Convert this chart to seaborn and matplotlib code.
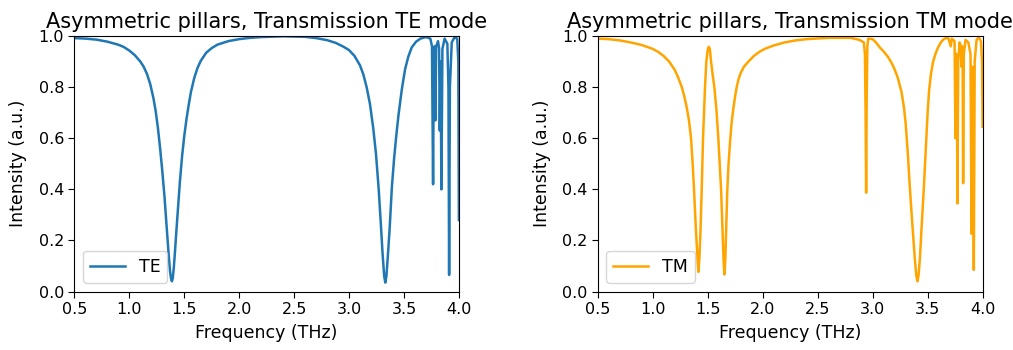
import matplotlib
matplotlib.use("Agg")
import matplotlib.pyplot as plt
import seaborn as sns
import pandas as pd

# Transmission spectrum, TE polarisation (frequency in THz, normalised intensity)
te_freq = [
    0.50, 0.60, 0.70, 0.80, 0.90, 0.95, 1.00, 1.05, 1.10, 1.13,
    1.16, 1.19, 1.22, 1.24, 1.26, 1.28, 1.30, 1.32, 1.34, 1.355,
    1.37, 1.38, 1.387, 1.395, 1.405, 1.415, 1.43, 1.445, 1.46, 1.48,
    1.50, 1.52, 1.54, 1.56, 1.59, 1.62, 1.65, 1.70, 1.75, 1.80,
    1.90, 2.00, 2.10, 2.20, 2.40, 2.60, 2.70, 2.80, 2.88, 2.95,
    3.00, 3.05, 3.10, 3.13, 3.16, 3.19, 3.22, 3.245, 3.27, 3.29,
    3.305, 3.32, 3.330, 3.34, 3.355, 3.37, 3.39, 3.41, 3.43, 3.45,
    3.48, 3.51, 3.54, 3.57, 3.61, 3.65, 3.70, 3.74, 3.755, 3.765,
    3.772, 3.779, 3.786, 3.793, 3.810, 3.820, 3.826, 3.833, 3.841, 3.850,
    3.870, 3.895, 3.905, 3.911, 3.918, 3.935, 3.960, 3.985, 3.995, 4.000,
]
te_int = [
    0.992, 0.990, 0.986, 0.978, 0.966, 0.957, 0.943, 0.925, 0.900, 0.880,
    0.852, 0.812, 0.755, 0.705, 0.640, 0.560, 0.470, 0.370, 0.250, 0.160,
    0.080, 0.050, 0.040, 0.052, 0.095, 0.155, 0.250, 0.340, 0.430, 0.530,
    0.610, 0.675, 0.730, 0.780, 0.835, 0.875, 0.903, 0.935, 0.953, 0.966,
    0.980, 0.988, 0.993, 0.996, 0.999, 0.997, 0.992, 0.984, 0.973, 0.958,
    0.945, 0.922, 0.885, 0.850, 0.800, 0.735, 0.640, 0.540, 0.400, 0.260,
    0.150, 0.060, 0.035, 0.060, 0.150, 0.250, 0.410, 0.520, 0.610, 0.690,
    0.790, 0.870, 0.920, 0.955, 0.978, 0.990, 0.996, 0.990, 0.960, 0.420,
    0.950, 0.960, 0.670, 0.960, 0.980, 0.950, 0.630, 0.900, 0.400, 0.950,
    0.990, 0.970, 0.800, 0.065, 0.800, 0.975, 0.995, 0.990, 0.900, 0.280,
]

# Transmission spectrum, TM polarisation
tm_freq = [
    0.50, 0.60, 0.70, 0.80, 0.90, 1.00, 1.05, 1.10, 1.15, 1.20,
    1.23, 1.265, 1.29, 1.31, 1.33, 1.349, 1.365, 1.376, 1.39, 1.40,
    1.41, 1.416, 1.425, 1.435, 1.446, 1.458, 1.476, 1.488, 1.50, 1.510,
    1.52, 1.531, 1.545, 1.561, 1.58, 1.597, 1.622, 1.635, 1.645, 1.652,
    1.660, 1.670, 1.679, 1.69, 1.706, 1.72, 1.735, 1.75, 1.764, 1.78,
    1.80, 1.83, 1.87, 1.92, 1.97, 2.02, 2.10, 2.20, 2.30, 2.40,
    2.60, 2.80, 2.88, 2.92, 2.930, 2.936, 2.941, 2.946, 2.952, 2.960,
    3.00, 3.03, 3.066, 3.10, 3.14, 3.172, 3.20, 3.23, 3.263, 3.285,
    3.30, 3.32, 3.338, 3.355, 3.37, 3.385, 3.398, 3.408, 3.418, 3.43,
    3.445, 3.465, 3.48, 3.50, 3.514, 3.53, 3.55, 3.575, 3.595, 3.62,
    3.645, 3.67, 3.69, 3.70, 3.71, 3.72, 3.745, 3.753, 3.760, 3.766,
    3.771, 3.778, 3.790, 3.802, 3.808, 3.814, 3.818, 3.823, 3.829, 3.845,
    3.870, 3.890, 3.899, 3.905, 3.912, 3.920, 3.928, 3.945, 3.965, 3.985,
    3.995, 4.000,
]
tm_int = [
    0.990, 0.988, 0.983, 0.975, 0.965, 0.950, 0.938, 0.922, 0.900, 0.868,
    0.840, 0.800, 0.760, 0.720, 0.670, 0.600, 0.490, 0.400, 0.270, 0.190,
    0.110, 0.077, 0.130, 0.240, 0.400, 0.600, 0.800, 0.900, 0.945, 0.958,
    0.950, 0.900, 0.850, 0.800, 0.710, 0.600, 0.400, 0.240, 0.120, 0.067,
    0.120, 0.270, 0.400, 0.500, 0.600, 0.670, 0.720, 0.765, 0.800, 0.830,
    0.855, 0.880, 0.900, 0.922, 0.938, 0.950, 0.963, 0.975, 0.983, 0.988,
    0.993, 0.993, 0.985, 0.975, 0.930, 0.700, 0.387, 0.750, 0.960, 0.990,
    0.988, 0.975, 0.955, 0.940, 0.918, 0.895, 0.870, 0.835, 0.780, 0.720,
    0.660, 0.540, 0.410, 0.300, 0.210, 0.120, 0.060, 0.040, 0.065, 0.130,
    0.250, 0.400, 0.530, 0.700, 0.790, 0.850, 0.900, 0.935, 0.955, 0.975,
    0.987, 0.993, 0.990, 0.975, 0.960, 0.990, 0.980, 0.600, 0.930, 0.920,
    0.345, 0.900, 0.975, 0.960, 0.880, 0.960, 0.950, 0.424, 0.930, 0.985,
    0.975, 0.930, 0.226, 0.880, 0.860, 0.085, 0.900, 0.985, 0.995, 0.980,
    0.900, 0.645,
]

x_ticks = [0.5, 1.0, 1.5, 2.0, 2.5, 3.0, 3.5, 4.0]
y_ticks = [0.0, 0.2, 0.4, 0.6, 0.8, 1.0]

panels = [
    ("TE", te_freq, te_int, "#1f77b4", "Asymmetric pillars, Transmission TE mode"),
    ("TM", tm_freq, tm_int, "orange", "Asymmetric pillars, Transmission TM mode"),
]

plt.rcParams["font.family"] = ["DejaVu Sans"]
fig = plt.figure(figsize=(10.13, 3.5), dpi=100)
boxes = [[0.0735, 0.167, 0.3795, 0.730], [0.590, 0.167, 0.380, 0.730]]

for box, (name, freq, inten, color, title) in zip(boxes, panels):
    ax = fig.add_axes(box)
    df = pd.DataFrame({"Frequency": freq, "Intensity": inten})
    sns.lineplot(data=df, x="Frequency", y="Intensity", color=color,
                 linewidth=1.8, estimator=None, label=name, ax=ax)
    ax.set_xlim(0.5, 4.0)
    ax.set_ylim(0.0, 1.0)
    ax.set_xticks(x_ticks)
    ax.set_yticks(y_ticks)
    ax.set_xticklabels([f"{v:.1f}" for v in x_ticks])
    ax.set_yticklabels([f"{v:.1f}" for v in y_ticks])
    ax.tick_params(labelsize=11.5, length=4)
    ax.set_xlabel("Frequency (THz)", fontsize=12.5, labelpad=5)
    ax.set_ylabel("Intensity (a.u.)", fontsize=12.5, labelpad=8)
    ax.set_title(title, fontsize=15)
    ax.legend(loc="lower left", fontsize=12.5)

fig.savefig("out.png", dpi=100)
